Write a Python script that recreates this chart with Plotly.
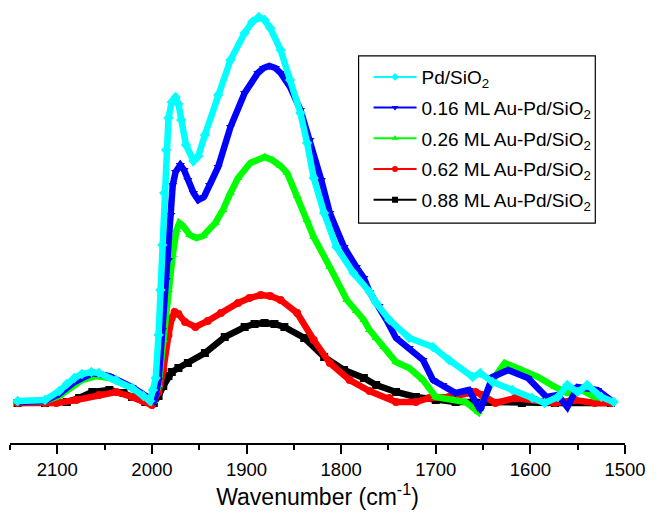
import plotly.graph_objects as go

# Wavenumber (cm^-1) and intensity (a.u.)
pd_wn = [2142, 2113, 2098, 2090, 2082, 2074, 2064, 2056, 2038, 2021, 2009, 2002, 1999, 1996, 1993, 1991, 1989,
         1987, 1985, 1982.5, 1979, 1975, 1972, 1969, 1964, 1956, 1951, 1944, 1930, 1917, 1902, 1894, 1887, 1881,
         1875, 1864, 1854, 1843, 1836, 1829, 1818, 1805, 1787, 1770, 1763, 1749, 1728, 1703, 1686, 1661, 1653,
         1640, 1619, 1598, 1585, 1571, 1561, 1550, 1540, 1525, 1512]
pd_val = [0, 1, 10, 17, 23, 27, 29, 28, 21, 13, 5, 0, 11, 23, 66, 111, 156,
          208, 251, 283, 299, 304, 297, 281, 256, 240, 245, 266, 306, 341, 368, 379, 384, 381,
          373, 351, 321, 288, 258, 223, 188, 154, 128, 109, 98, 81, 63, 54, 41, 24, 28,
          19, 11, 3, -2, 4, 16, 9, 16, 4, -1]

au16_wn = [2142, 2113, 2098, 2082, 2063, 2045, 2021, 2006, 1998, 1996, 1993, 1989, 1985, 1982.5, 1980, 1978,
           1975, 1970, 1966, 1962, 1956, 1951, 1945, 1939, 1930, 1917, 1902, 1888, 1882, 1876, 1869.5, 1864,
           1854, 1843, 1833, 1821, 1812, 1797, 1784, 1776, 1770, 1760, 1752, 1742, 1728, 1713.5, 1703, 1692.5,
           1679, 1665, 1653, 1640, 1623.5, 1602.6, 1583, 1571, 1561, 1550, 1540, 1529, 1515]
au16_val = [-1, 0, 7, 19, 28, 25, 14, 5, 0, 6, 21, 71, 121, 141, 186, 216,
            229, 236, 231, 221, 208, 201, 204, 216, 234, 274, 308, 328, 333, 335, 333, 328,
            314, 291, 261, 221, 188, 154, 134, 123, 109, 95, 81, 63, 53, 41, 21, 16,
            8, 11, -9, 24, 31, 23, 4, 6, -6, 14, 13, 11, 1]

au26_wn = [2142, 2113, 2098, 2090, 2074, 2059, 2045, 2021, 2006, 1998, 1993, 1988, 1982.5, 1978, 1974, 1971,
           1967, 1960, 1953, 1946, 1933, 1925, 1917, 1909, 1896, 1888, 1881, 1873, 1864, 1857, 1846.5, 1836,
           1829, 1812, 1794, 1784, 1776, 1770, 1763, 1755, 1742, 1728, 1713.5, 1700, 1682, 1668.5, 1655, 1640,
           1627, 1609, 1592, 1574, 1561, 1546, 1532, 1519]
au26_val = [-1, 0, 5, 11, 21, 25, 23, 13, 4, 0, 16, 61, 111, 146, 171, 178,
            175, 166, 163, 165, 178, 191, 208, 223, 238, 241, 244, 241, 235, 228, 205, 181,
            164, 134, 101, 90, 81, 71, 63, 54, 39, 33, 21, 4, 1, -1, -11, 21,
            38, 31, 24, 14, 8, 11, 4, 3]

au62_wn = [2142, 2113, 2101, 2080, 2056, 2038, 2021, 2009, 2000, 1993, 1988, 1982.5, 1979, 1976, 1972, 1965,
           1954, 1941, 1927, 1909, 1897, 1885, 1875, 1864, 1846.5, 1829, 1812, 1791, 1770, 1749, 1742, 1721,
           1707, 1686, 1658, 1651, 1637, 1616, 1595, 1574, 1553, 1532, 1515]
au62_val = [-2, -2, -2, 1, 6, 9, 4, 0, -4, 9, 31, 66, 83, 89, 87, 79,
            74, 80, 88, 98, 103, 106, 105, 101, 88, 61, 38, 21, 10, 3, -1, -1,
            3, 4, 9, 6, -2, 3, 1, -2, 1, -2, -2]

au88_wn = [2142, 2113, 2090, 2077, 2063, 2045, 2030, 2021, 2007, 1998, 1993, 1988, 1982.5, 1979, 1972, 1962,
           1944, 1923, 1902, 1891.5, 1881, 1870.5, 1860, 1839, 1818, 1797, 1776, 1763, 1742, 1721, 1700, 1679,
           1644, 1609, 1574, 1515]
au88_val = [-2, -2, -1, 3, 9, 11, 8, 4, -1, -2, 5, 15, 25, 29, 33, 38,
            48, 64, 74, 77, 78, 77, 74, 63, 44, 31, 23, 16, 9, 4, 1, -1,
            -1, -2, -2, -2]

names = ["Pd/SiO<sub>2</sub>", "0.16 ML Au-Pd/SiO<sub>2</sub>", "0.26 ML Au-Pd/SiO<sub>2</sub>",
         "0.62 ML Au-Pd/SiO<sub>2</sub>", "0.88 ML Au-Pd/SiO<sub>2</sub>"]
colors = ["#00FFFF", "#0000FF", "#00FF00", "#FF0000", "#000000"]
symbols = ["diamond", "triangle-down", "triangle-up", "circle", "square"]
series = [(pd_wn, pd_val), (au16_wn, au16_val), (au26_wn, au26_val), (au62_wn, au62_val), (au88_wn, au88_val)]

x_ticks = [2100, 2000, 1900, 1800, 1700, 1600, 1500]

fig = go.Figure()
# draw from last to first so that Pd/SiO2 sits on top
for i in reversed(range(5)):
    wn, val = series[i]
    fig.add_trace(go.Scatter(
        x=wn, y=val, mode="lines+markers", showlegend=False,
        line=dict(color=colors[i], width=6.5),
        marker=dict(symbol=symbols[i], size=8, color=colors[i]),
        hoverinfo="skip"))
# legend entries (thin line + marker, as in the reference)
for i in range(5):
    fig.add_trace(go.Scatter(
        x=[None], y=[None], mode="lines+markers", name=names[i], legendgroup="g%d" % i,
        line=dict(color=colors[i], width=2),
        marker=dict(symbol=symbols[i], size=6, color=colors[i])))

# legend frame
fig.add_shape(type="rect", xref="paper", yref="paper",
              x0=0.5668, x1=0.9517, y0=0.508, y1=0.894,
              line=dict(color="black", width=1.2), fillcolor="rgba(0,0,0,0)", layer="above")

fig.update_layout(
    width=656, height=519,
    margin=dict(l=10, r=25, t=10, b=76),
    paper_bgcolor="white", plot_bgcolor="white",
    font=dict(family="Liberation Sans, Arial, sans-serif", color="black"),
    legend=dict(x=0.583, y=0.889, xanchor="left", yanchor="top",
                borderwidth=0, bgcolor="rgba(255,255,255,0)",
                font=dict(size=19), tracegroupgap=3, itemwidth=43),
    xaxis=dict(range=[2150, 1500], showline=True, linecolor="black", linewidth=2,
               ticks="outside", ticklen=9, tickwidth=2, tickcolor="black",
               tickvals=x_ticks, ticktext=[str(v) for v in x_ticks],
               minor=dict(ticks="outside", ticklen=5, tickwidth=2, tickcolor="black", dtick=50, tick0=2150),
               showgrid=False, zeroline=False, tickfont=dict(size=18.5),
               title=dict(text="Wavenumber (cm<sup>-1</sup>)", font=dict(size=23), standoff=8)),
    yaxis=dict(range=[-42, 391], visible=False, showgrid=False, zeroline=False),
)

fig.write_html("out.html")
